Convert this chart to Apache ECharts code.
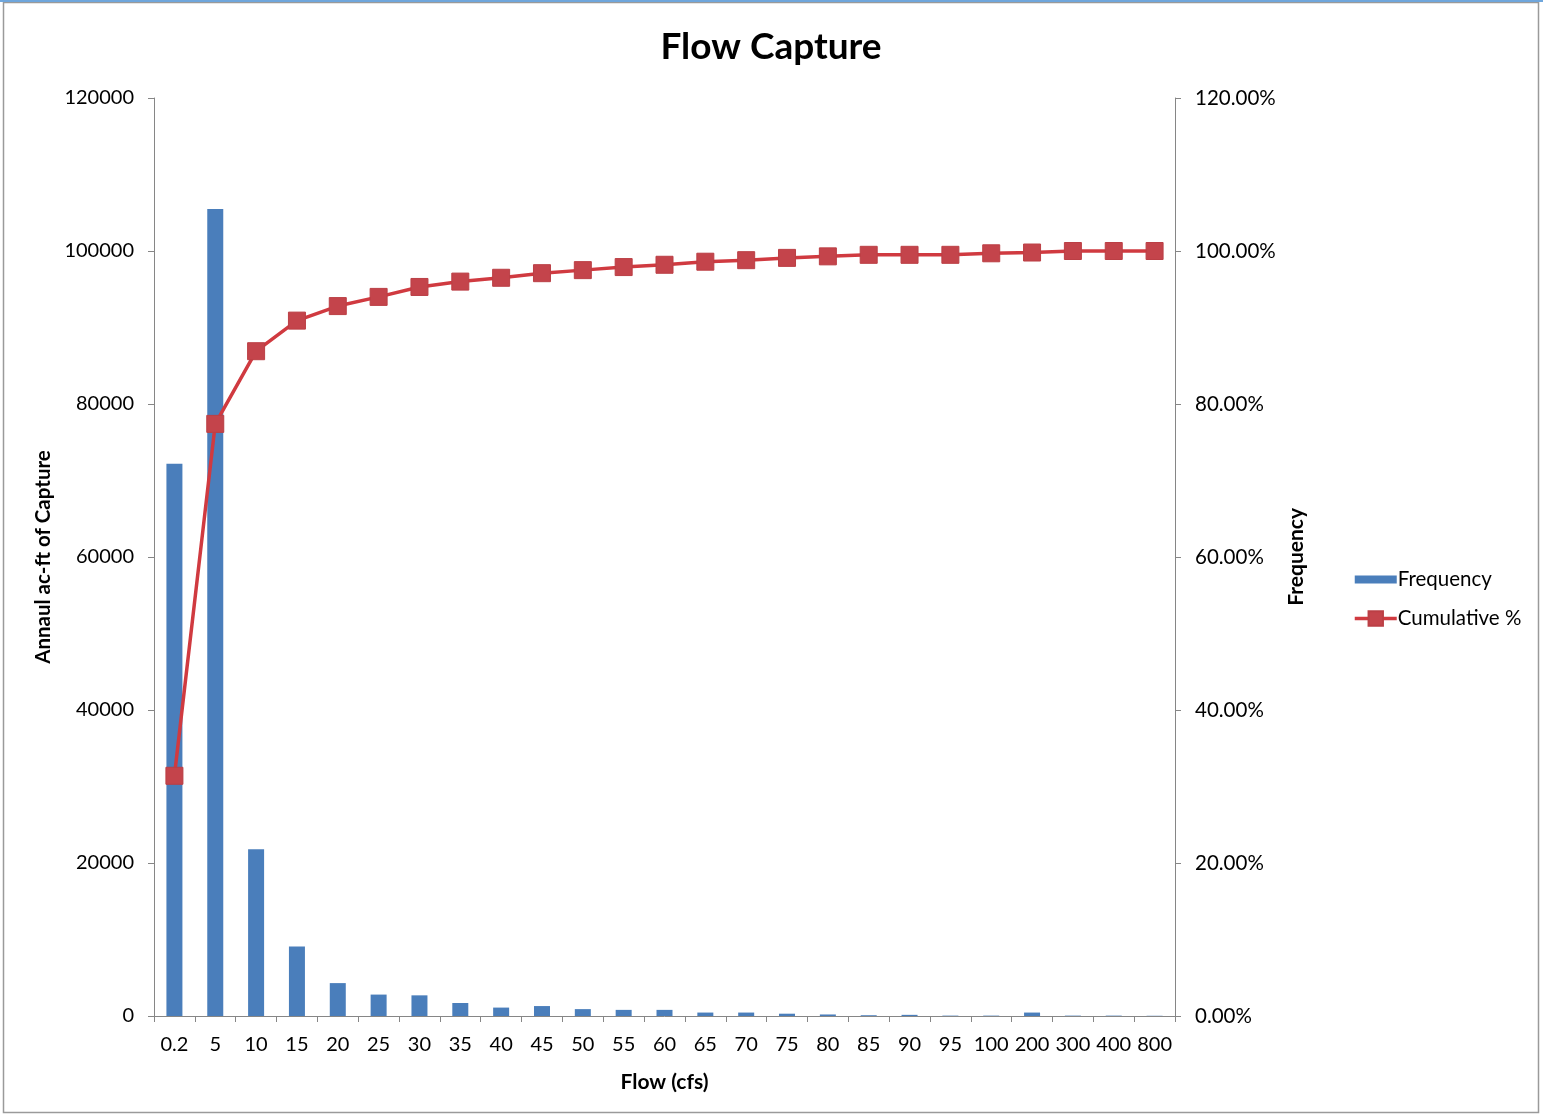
<!DOCTYPE html>
<html>
<head>
<meta charset="utf-8">
<title>Flow Capture</title>
<script src="https://cdn.jsdelivr.net/npm/echarts@6/dist/echarts.min.js"></script>
<style>
  html, body { margin: 0; padding: 0; background: #ffffff; }
  #chart { width: 1543px; height: 1116px; }
</style>
</head>
<body>
<div id="chart"></div>
<script>
// Flow bins (cfs)
const flowBins = ['0.2', '5', '10', '15', '20', '25', '30', '35', '40', '45', '50', '55', '60',
  '65', '70', '75', '80', '85', '90', '95', '100', '200', '300', '400', '800'];

// Annual acre-feet captured in each flow bin
const frequency = [72200, 105500, 21800, 9100, 4300, 2800, 2700, 1700, 1100, 1300, 900, 800, 800,
  450, 450, 300, 200, 100, 150, 50, 50, 450, 50, 50, 30];

// Cumulative share of capture, in percent
const cumulativePct = [31.4, 77.4, 86.9, 90.9, 92.8, 94.0, 95.3, 96.0, 96.5, 97.1, 97.5, 97.9, 98.2,
  98.6, 98.8, 99.1, 99.3, 99.5, 99.5, 99.5, 99.7, 99.8, 100, 100, 100];

// Axis ticks
const leftTicks = { min: 0, max: 120000, interval: 20000 };
const rightTicks = { min: 0, max: 120, interval: 20 };

const FONT = 'Lato, "Open Sans", sans-serif';
const AXIS_GRAY = '#868686';

const chart = echarts.init(document.getElementById('chart'), null, { renderer: 'canvas' });

chart.setOption({
  backgroundColor: '#ffffff',
  animation: false,
  textStyle: { fontFamily: FONT },
  title: {
    text: 'Flow Capture',
    left: 766,
    textAlign: 'center',
    top: 24,
    textStyle: { fontFamily: FONT, fontSize: 37, fontWeight: 'bold', color: '#000000' }
  },
  graphic: [
    { type: 'rect', shape: { x: 3.5, y: 2.5, width: 1535, height: 1110 },
      style: { fill: 'none', stroke: '#9a9a9a', lineWidth: 1.5 }, silent: true },
    { type: 'line', shape: { x1: 0, y1: 1, x2: 1543, y2: 1 },
      style: { stroke: '#6fa6dc', lineWidth: 2 }, silent: true },
    { type: 'text', left: 1286, top: 508, rotation: Math.PI / 2,
      style: { text: 'Frequency', fontFamily: FONT, fontSize: 21, fontWeight: 'bold', fill: '#000000' } }
  ],
  legend: {
    orient: 'vertical',
    left: 1348,
    top: 564,
    itemGap: 18,
    itemWidth: 42,
    itemHeight: 18,
    lineStyle: { width: 3.5 },
    textStyle: { fontFamily: FONT, fontSize: 20.5, color: '#000000', padding: [0, 0, 0, -4] },
    data: [
      { name: 'Frequency', icon: 'path://M0,0 H42 V8 H0 Z' },
      { name: 'Cumulative %' }
    ]
  },
  grid: { left: 154, right: 368, top: 98, bottom: 100, containLabel: false },
  xAxis: {
    type: 'category',
    data: flowBins,
    name: 'Flow (cfs)',
    nameLocation: 'middle',
    nameGap: 56,
    nameTextStyle: { fontFamily: FONT, fontSize: 21, fontWeight: 'bold', color: '#000000' },
    axisLine: { lineStyle: { color: AXIS_GRAY, width: 1 } },
    axisTick: { show: true, length: 6, lineStyle: { color: AXIS_GRAY } },
    axisLabel: { fontFamily: FONT, fontSize: 20, color: '#000000', margin: 19, interval: 0 },
    splitLine: { show: false }
  },
  yAxis: [
    {
      type: 'value',
      min: leftTicks.min, max: leftTicks.max, interval: leftTicks.interval,
      name: 'Annaul ac-ft of Capture',
      nameLocation: 'middle',
      nameGap: 95,
      nameRotate: 90,
      nameTextStyle: { fontFamily: FONT, fontSize: 20.5, fontWeight: 'bold', color: '#000000' },
      axisLine: { show: true, lineStyle: { color: AXIS_GRAY, width: 1 } },
      axisTick: { show: true, length: 6, lineStyle: { color: AXIS_GRAY } },
      axisLabel: { fontFamily: FONT, fontSize: 20, color: '#000000', margin: 20, formatter: v => String(v) },
      splitLine: { show: false }
    },
    {
      type: 'value',
      position: 'right',
      min: rightTicks.min, max: rightTicks.max, interval: rightTicks.interval,
      axisLine: { show: true, lineStyle: { color: AXIS_GRAY, width: 1 } },
      axisTick: { show: true, length: 6, lineStyle: { color: AXIS_GRAY } },
      axisLabel: {
        fontFamily: FONT, fontSize: 20.5, color: '#000000', margin: 20,
        formatter: v => v.toFixed(2) + '%'
      },
      splitLine: { show: false }
    }
  ],
  series: [
    {
      name: 'Frequency',
      type: 'bar',
      data: frequency,
      yAxisIndex: 0,
      barWidth: 16,
      itemStyle: { color: '#4a7ebb' }
    },
    {
      name: 'Cumulative %',
      type: 'line',
      data: cumulativePct,
      yAxisIndex: 1,
      symbol: 'rect',
      symbolSize: 17,
      showAllSymbol: true,
      lineStyle: { color: '#d03a40', width: 3.5 },
      itemStyle: { color: '#c4444b', borderColor: '#bb3f45', borderWidth: 1 }
    }
  ]
});
</script>
</body>
</html>
